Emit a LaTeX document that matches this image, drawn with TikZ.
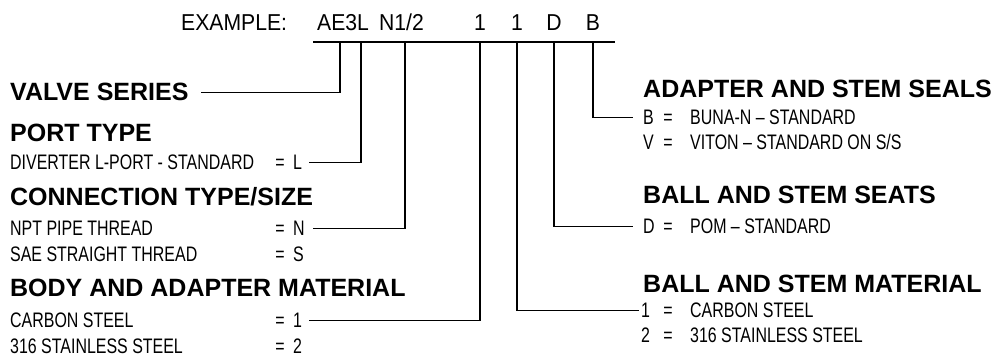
\documentclass[tikz,border=0pt]{standalone}
\usepackage{fontspec}
\setmainfont{Liberation Sans}
\newfontfamily\itemfont{Liberation Sans}[FakeStretch=0.76]
\newfontfamily\exfont{Liberation Sans}[FakeStretch=0.92]
\begin{document}
\begin{tikzpicture}[x=1pt,y=-1pt,
  head/.style={anchor=base west, inner sep=0pt, font=\fontsize{25}{28}\selectfont\bfseries},
  item/.style={anchor=base west, inner sep=0pt, font=\fontsize{21}{23}\itemfont},
  eqs/.style={anchor=base, inner sep=0pt, font=\fontsize{21}{23}\itemfont},
  ex/.style={anchor=base west, inner sep=0pt, font=\fontsize{23}{25}\exfont},
  exc/.style={anchor=base, inner sep=0pt, font=\fontsize{23}{25}\exfont},
  conn/.style={line width=1.1pt, line cap=butt}]
\useasboundingbox (0,0) rectangle (997,358);

% example row
\node[ex] (exlbl) at (181,31) {EXAMPLE:};
\node[ex] (cAE) at (317,31) {AE3L};
\node[ex] (cN) at (379,31) {N1/2};
\node[exc] (cA) at (480,31) {1};
\node[exc] (cB) at (517,31) {1};
\node[exc] (cD) at (554,31) {D};
\node[exc] (cE) at (593,31) {B};

\coordinate (la) at (313,42);
\coordinate (lb) at (615,42);
\draw[conn] (la) -- (lb);
\coordinate (t1) at (340,42);
\coordinate (t2) at (361,42);
\coordinate (t3) at (405,42);
\coordinate (t4) at (480,42);
\coordinate (t5) at (517,42);
\coordinate (t6) at (554,42);
\coordinate (t7) at (593,42);

% left column
\node[head] (vs) at (10,101) {VALVE SERIES};

\node[head] (pt) at (10,142) {PORT TYPE};
\node[item] (pt1) at (10,170) {DIVERTER L-PORT - STANDARD};
\node[eqs] (pt1e) at (280,170) {=};
\node[item] (pt1v) at (293,170) {L};

\node[head] (ct) at (10,206) {CONNECTION TYPE/SIZE};
\node[item] (ct1) at (10,236) {NPT PIPE THREAD};
\node[eqs] (ct1e) at (280,236) {=};
\node[item] (ct1v) at (293,236) {N};
\node[item] (ct2) at (10,262) {SAE STRAIGHT THREAD};
\node[eqs] (ct2e) at (280,262) {=};
\node[item] (ct2v) at (293,262) {S};

\node[head] (bm) at (10,297) {BODY AND ADAPTER MATERIAL};
\node[item] (bm1) at (10,328) {CARBON STEEL};
\node[eqs] (bm1e) at (280,328) {=};
\node[item] (bm1v) at (293,328) {1};
\node[item] (bm2) at (10,354) {316 STAINLESS STEEL};
\node[eqs] (bm2e) at (280,354) {=};
\node[item] (bm2v) at (293,354) {2};

% right column
\node[head] (sh) at (643,98) {ADAPTER AND STEM SEALS};
\node[item] (sB) at (643,125) {B};
\node[eqs] (sBe) at (668,125) {=};
\node[item] (sBd) at (690,125) {BUNA-N – STANDARD};
\node[item] (sV) at (643,150) {V};
\node[eqs] (sVe) at (668,150) {=};
\node[item] (sVd) at (690,150) {VITON – STANDARD ON S/S};

\node[head] (dh) at (643,204) {BALL AND STEM SEATS};
\node[item] (dD) at (643,234) {D};
\node[eqs] (dDe) at (668,234) {=};
\node[item] (dDd) at (690,234) {POM – STANDARD};

\node[head] (mh) at (643,293) {BALL AND STEM MATERIAL};
\node[item] (m1) at (641,318) {1};
\node[eqs] (m1e) at (668,318) {=};
\node[item] (m1d) at (690,318) {CARBON STEEL};
\node[item] (m2) at (641,342) {2};
\node[eqs] (m2e) at (668,342) {=};
\node[item] (m2d) at (690,342) {316 STAINLESS STEEL};

% connectors
\draw[conn] (t1) |- ([xshift=12pt]vs.east);
\draw[conn] (t2) |- ([xshift=7pt]pt1v.east);
\draw[conn] (t3) |- ([xshift=8pt]ct1v.east);
\draw[conn] (t4) |- ([xshift=7pt]bm1v.east);
\draw[conn] (t5) |- ([xshift=-2pt]m1.west);
\draw[conn] (t6) |- ([xshift=-10pt]dD.west);
\draw[conn] (t7) |- ([xshift=-10pt]sB.west);
\end{tikzpicture}
\end{document}
